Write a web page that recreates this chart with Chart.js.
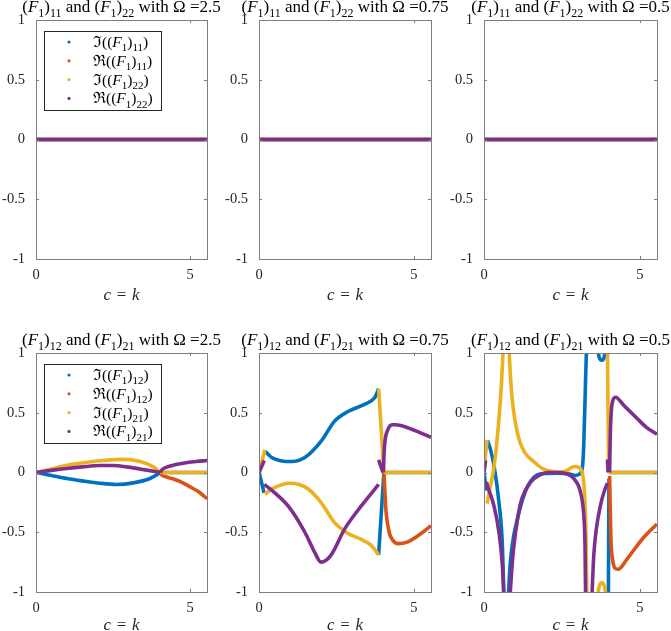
<!DOCTYPE html>
<html>
<head>
<meta charset="utf-8">
<script src="https://cdn.jsdelivr.net/npm/chart.js@4.4.1/dist/chart.umd.min.js"></script>
<style>
  html, body { margin: 0; padding: 0; background: #fff; width: 671px; height: 631px; overflow: hidden; }
  canvas { position: absolute; }
</style>
</head>
<body>
<canvas id="p1"></canvas>
<canvas id="p2"></canvas>
<canvas id="p3"></canvas>
<canvas id="p4"></canvas>
<canvas id="p5"></canvas>
<canvas id="p6"></canvas>
<script>
// ---- data, [c, value], [c, null] = break in the curve ----
const xTicks = [0, 5];
const yTicks = [-1, -0.5, 0, 0.5, 1];
const omegas = ['2.5', '0.75', '0.5'];

// top row: every (F1)11 / (F1)22 component sits on zero
const flat = [[0, 0], [5.55, 0]];

// Omega = 2.5
const w25ImF12 = [[0,0],[0.5,-0.025],[1.0,-0.05],[1.5,-0.07],[2.08,-0.09],[2.62,-0.10],[3.16,-0.087],[3.7,-0.05],[3.95,-0.015],[4.03,0],[4.03,null],[4.03,0],[5.55,0]];
const w25ReF12 = [[4.03,0],[4.08,-0.02],[4.2,-0.035],[4.46,-0.055],[4.75,-0.085],[5.0,-0.12],[5.3,-0.165],[5.55,-0.22]];
const w25ImF21 = [[0,0],[0.5,0.03],[1,0.06],[1.5,0.08],[2.08,0.098],[2.84,0.11],[3.38,0.092],[3.81,0.047],[4.03,0],[4.03,null],[4.03,0],[5.55,0]];
const w25ReF21 = [[0,0],[0.5,0.018],[1,0.034],[1.5,0.047],[2.08,0.058],[2.5,0.058],[3.0,0.045],[3.5,0.024],[4.03,0],[4.03,null],[4.03,0],[4.1,0.025],[4.24,0.045],[4.5,0.064],[4.78,0.078],[5.2,0.092],[5.55,0.10]];

// Omega = 0.75
const w075ImF12 = [[0,0],[0.08,-0.08],[0.16,-0.17],[0.17,null],[0.19,0.18],[0.41,0.125],[0.73,0.097],[1.05,0.092],[1.48,0.125],[2.0,0.26],[2.44,0.43],[2.87,0.51],[3.4,0.57],[3.73,0.625],[3.86,0.70],[3.86,null],[3.86,-0.69],[4.03,0],[4.03,null],[4.03,0],[5.55,0]];
const w075ReF12 = [[4.03,0],[4.07,-0.2],[4.1,-0.33],[4.2,-0.5],[4.3,-0.56],[4.48,-0.595],[4.8,-0.58],[5.23,-0.51],[5.55,-0.445]];
const w075ImF21 = [[0,0],[0.19,0.19],[0.19,null],[0.19,-0.18],[0.51,-0.125],[1.0,-0.09],[1.3,-0.1],[1.6,-0.14],[2.0,-0.25],[2.44,-0.42],[2.87,-0.51],[3.3,-0.56],[3.62,-0.61],[3.86,-0.69],[3.86,null],[3.86,0.70],[4.03,0],[4.03,null],[4.03,0],[5.55,0]];
const w075ReF21 = [[0,0],[0.17,0.10],[0.17,null],[0.17,-0.10],[0.51,-0.17],[0.94,-0.28],[1.48,-0.5],[1.8,-0.67],[2.0,-0.75],[2.3,-0.7],[2.77,-0.47],[3.3,-0.28],[3.86,-0.1],[3.86,null],[3.86,0.105],[4.0,0],[4.0,null],[4.01,0],[4.05,0.22],[4.16,0.36],[4.3,0.40],[4.4,0.40],[4.8,0.375],[5.23,0.33],[5.55,0.295]];

// Omega = 0.5
const w05ImF12 = [[0,0],[0.04,-0.08],[0.08,-0.15],[0.09,null],[0.11,0.27],[0.2,0.2],[0.32,0.06],[0.48,-0.25],[0.59,-0.61],[0.64,-1.05],[0.7,null],[0.78,-1.05],[0.83,-0.8],[0.91,-0.6],[1.07,-0.39],[1.39,-0.12],[1.82,-0.01],[2.3,-0.005],[2.7,-0.01],[2.94,-0.025],[3.05,-0.015],[3.15,0.03],[3.2,0.23],[3.26,0.79],[3.29,1.05],[3.4,null],[3.63,1.05],[3.7,0.96],[3.79,0.94],[3.86,0.97],[3.9,1.05],[3.95,null],[3.99,-1.05],[4.0,-0.5],[4.01,-0.05],[4.02,null],[4.03,0],[5.55,0]];
const w05ReF12 = [[4.03,-0.03],[4.05,-0.3],[4.07,-0.55],[4.12,-0.72],[4.2,-0.8],[4.3,-0.81],[4.6,-0.72],[5.1,-0.55],[5.55,-0.43]];
const w05ImF21 = [[0,0],[0.05,0.15],[0.1,0.27],[0.1,null],[0.1,-0.26],[0.2,-0.12],[0.33,0.06],[0.48,0.45],[0.56,0.75],[0.62,1.05],[0.7,null],[0.8,1.05],[0.85,0.8],[0.93,0.55],[1.1,0.3],[1.3,0.17],[1.6,0.09],[1.9,0.03],[2.2,0.008],[2.45,0.005],[2.65,0.015],[2.8,0.04],[2.95,0.05],[3.05,0.04],[3.15,0.0],[3.22,-0.15],[3.27,-0.5],[3.3,-1.05],[3.4,null],[3.63,-1.05],[3.7,-0.95],[3.79,-0.92],[3.86,-0.95],[3.93,-1.05],[3.94,null],[3.96,1.05],[3.98,0.5],[4.0,0],[4.0,null],[4.0,0],[5.55,0]];
const w05ReF21 = [[0,0],[0.05,0.1],[0.06,null],[0.08,-0.08],[0.11,-0.11],[0.32,-0.28],[0.48,-0.5],[0.59,-0.78],[0.64,-1.05],[0.7,null],[0.83,-1.05],[0.9,-0.78],[0.96,-0.61],[1.07,-0.4],[1.18,-0.25],[1.5,-0.08],[1.8,-0.02],[2.03,0],[2.3,0],[2.56,-0.005],[2.92,-0.064],[3.1,-0.17],[3.21,-0.39],[3.24,-0.6],[3.26,-1.05],[3.3,null],[3.46,-1.05],[3.52,-0.7],[3.6,-0.48],[3.74,-0.27],[3.88,-0.14],[3.96,-0.09],[3.96,null],[3.96,0.11],[3.98,0],[3.99,null],[4.03,0],[4.05,0.3],[4.08,0.5],[4.13,0.6],[4.22,0.63],[4.49,0.56],[4.92,0.45],[5.2,0.38],[5.55,0.32]];

const colors = ['#0072BD', '#D95319', '#EDB120', '#7E2F8E'];
const SERIF = "'Liberation Serif', 'DejaVu Serif', serif";
const AXIS = '#7f7f7f';
const INK = '#262626';

// ---- rich text: _x_ italic, ~x~ subscript ----
function parts(str) {
  return str.split(/(_[^_]+_|~[^~]+~)/).filter(Boolean).map(p =>
    p[0] === '_' ? { t: p.slice(1, -1), k: 'i' } :
    p[0] === '~' ? { t: p.slice(1, -1), k: 's' } : { t: p, k: 'n' });
}
function fontFor(k, size) {
  if (k === 'i') return `italic ${size}px ${SERIF}`;
  if (k === 's') return `${Math.round(size * 0.7)}px ${SERIF}`;
  return `${size}px ${SERIF}`;
}
function drawRich(ctx, str, x, y, size, align) {
  const ps = parts(str);
  let total = 0;
  ps.forEach(p => { ctx.font = fontFor(p.k, size); p.w = ctx.measureText(p.t).width; total += p.w; });
  let cx = align === 'center' ? x - total / 2 : x;
  ctx.textBaseline = 'alphabetic';
  ctx.textAlign = 'left';
  ps.forEach(p => {
    ctx.font = fontFor(p.k, size);
    ctx.fillText(p.t, cx, y + (p.k === 's' ? size * 0.28 : 0));
    cx += p.w;
  });
}

const panelDeco = {
  id: 'panelDeco',
  afterDraw(chart, args, o) {
    const { ctx, chartArea: a, scales } = chart;
    ctx.save();
    ctx.strokeStyle = AXIS;
    ctx.lineWidth = 1;
    ctx.strokeRect(Math.round(a.left) + 0.5, Math.round(a.top) + 0.5, Math.round(a.right - a.left), Math.round(a.bottom - a.top));
    ctx.beginPath();
    yTicks.forEach(v => {
      const py = Math.round(scales.y.getPixelForValue(v)) + 0.5;
      ctx.moveTo(a.left, py); ctx.lineTo(a.left + 3, py);
      ctx.moveTo(a.right, py); ctx.lineTo(a.right - 3, py);
    });
    xTicks.forEach(v => {
      const px = Math.round(scales.x.getPixelForValue(v)) + 0.5;
      ctx.moveTo(px, a.bottom); ctx.lineTo(px, a.bottom - 3);
      ctx.moveTo(px, a.top); ctx.lineTo(px, a.top + 3);
    });
    ctx.stroke();

    ctx.fillStyle = '#000';
    drawRich(ctx, o.title, (a.left + a.right) / 2, a.top - 8, 17, 'center');
    ctx.fillStyle = INK;
    drawRich(ctx, '_c_ \u200a= \u200a_k_', (a.left + a.right) / 2, a.bottom + o.labelGap, 17, 'center');

    if (o.legend) {
      const lx = a.left + 8, ly = a.top + 11, lw = 117, lh = 79;
      ctx.fillStyle = '#fff';
      ctx.fillRect(lx, ly, lw, lh);
      ctx.strokeStyle = '#262626';
      ctx.strokeRect(lx + 0.5, ly + 0.5, lw, lh);
      o.legend.forEach((lab, i) => {
        const cy = ly + 11 + i * 18.8;
        ctx.fillStyle = colors[i];
        ctx.beginPath();
        ctx.arc(lx + 25, cy, 1.6, 0, Math.PI * 2);
        ctx.fill();
        ctx.fillStyle = '#000';
        drawRich(ctx, lab, lx + 49, cy + 5, 15.5, 'left');
      });
    }
    ctx.restore();
  }
};

const cols = [[36, 207], [259, 431], [484, 657]];
const rows = [[20, 259], [353, 592]];
const labelGaps = [41, 38];
const PAD_L = 40, PAD_T = 22, PAD_R = 22, PAD_B = 44;

function makePanel(id, row, col, title, series, legend) {
  const [L, R] = cols[col], [T, B] = rows[row];
  const cv = document.getElementById(id);
  cv.width = R - L + PAD_L + PAD_R;
  cv.height = B - T + PAD_T + PAD_B;
  cv.style.left = (L - PAD_L) + 'px';
  cv.style.top = (T - PAD_T) + 'px';
  return new Chart(cv, {
    type: 'line',
    data: {
      datasets: series.map((s, i) => ({
        data: s.map(p => ({ x: p[0], y: p[1] })),
        borderColor: colors[i],
        borderWidth: 3.6,
        pointRadius: 0,
        fill: false,
        spanGaps: false,
        cubicInterpolationMode: 'monotone',
        clip: 0,
        order: 3 - i
      }))
    },
    options: {
      responsive: false,
      animation: false,
      events: [],
      layout: { padding: { top: PAD_T, right: PAD_R, left: 0, bottom: 0 } },
      plugins: {
        legend: { display: false },
        tooltip: { enabled: false },
        panelDeco: { title, legend, labelGap: labelGaps[row] }
      },
      scales: {
        x: {
          type: 'linear', min: 0, max: 5.55,
          afterBuildTicks: s => { s.ticks = xTicks.map(v => ({ value: v })); },
          afterFit: s => { s.height = PAD_B; },
          grid: { display: false, drawTicks: false },
          border: { display: false },
          ticks: { padding: 7, color: INK, font: { family: SERIF, size: 14.5 }, callback: v => String(v) }
        },
        y: {
          type: 'linear', min: -1, max: 1,
          afterBuildTicks: s => { s.ticks = yTicks.map(v => ({ value: v })); },
          afterFit: s => { s.width = PAD_L; },
          grid: { display: false, drawTicks: false },
          border: { display: false },
          ticks: { padding: 11, color: INK, font: { family: SERIF, size: 14.5 }, callback: v => String(v) }
        }
      }
    },
    plugins: [panelDeco]
  });
}

const topTitle = w => `(_F_~1~)~11~ and (_F_~1~)~22~ with Ω =${w}`;
const botTitle = w => `(_F_~1~)~12~ and (_F_~1~)~21~ with Ω =${w}`;
const topLegend = ['ℑ((_F_~1~)~11~)', 'ℜ((_F_~1~)~11~)', 'ℑ((_F_~1~)~22~)', 'ℜ((_F_~1~)~22~)'];
const botLegend = ['ℑ((_F_~1~)~12~)', 'ℜ((_F_~1~)~12~)', 'ℑ((_F_~1~)~21~)', 'ℜ((_F_~1~)~21~)'];

makePanel('p1', 0, 0, topTitle(omegas[0]), [flat, flat, flat, flat], topLegend);
makePanel('p2', 0, 1, topTitle(omegas[1]), [flat, flat, flat, flat]);
makePanel('p3', 0, 2, topTitle(omegas[2]), [flat, flat, flat, flat]);
makePanel('p4', 1, 0, botTitle(omegas[0]), [w25ImF12, w25ReF12, w25ImF21, w25ReF21], botLegend);
makePanel('p5', 1, 1, botTitle(omegas[1]), [w075ImF12, w075ReF12, w075ImF21, w075ReF21]);
makePanel('p6', 1, 2, botTitle(omegas[2]), [w05ImF12, w05ReF12, w05ImF21, w05ReF21]);
</script>
</body>
</html>
